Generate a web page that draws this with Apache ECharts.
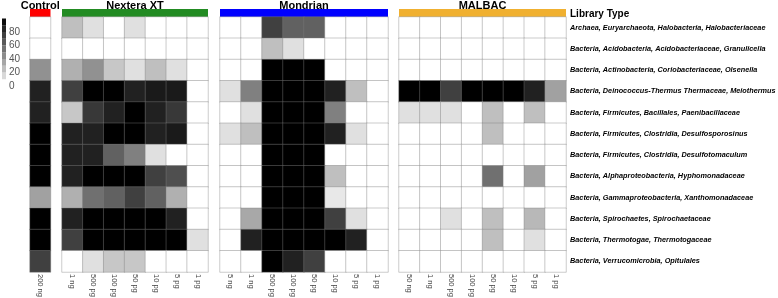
<!DOCTYPE html>
<html><head><meta charset="utf-8">
<script src="https://cdn.jsdelivr.net/npm/echarts@6/dist/echarts.min.js"></script>
<style>html,body{margin:0;padding:0;background:#fff}#c{width:778px;height:298px}</style>
</head><body><div id="c"></div>
<script>
const rowLabels = [
  'Archaea, Euryarchaeota, Halobacteria, Halobacteriaceae',
  'Bacteria, Acidobacteria, Acidobacteriaceae, Granulicella',
  'Bacteria, Actinobacteria, Coriobacteriaceae, Olsenella',
  'Bacteria, Deinococcus-Thermus Thermaceae, Meiothermus',
  'Bacteria, Firmicutes, Bacillales, Paenibacillaceae',
  'Bacteria, Firmicutes, Clostridia, Desulfosporosinus',
  'Bacteria, Firmicutes, Clostridia, Desulfotomaculum',
  'Bacteria, Alphaproteobacteria, Hyphomonadaceae',
  'Bacteria, Gammaproteobacteria, Xanthomonadaceae',
  'Bacteria, Spirochaetes, Spirochaetaceae',
  'Bacteria, Thermotogae, Thermotogaceae',
  'Bacteria, Verrucomicrobia, Opitulales'
];
const groupNames = ['Control', 'Nextera XT', 'Mondrian', 'MALBAC'];
const controlCols = ['200 ng'];
const nexteraCols = ['1 ng','500 pg','100 pg','50 pg','10 pg','5 pg','1 pg'];
const mondrianCols = ['5 ng','1 ng','500 pg','100 pg','50 pg','10 pg','5 pg','1 pg'];
const malbacCols = ['50 ng','1 ng','500 pg','100 pg','50 pg','10 pg','5 pg','1 pg'];

const controlValues = [
  [0],[0],[43],[87],[87],[100],[100],[100],[37],[100],[100],[75]
];
const nexteraValues = [
  [25,12,0,12,0,0,0],
  [0,0,0,0,0,0,0],
  [31,43,22,12,25,12,0],
  [75,100,100,87,90,90,0],
  [22,78,87,100,87,78,0],
  [87,87,100,100,87,90,0],
  [87,87,62,50,12,0,0],
  [87,100,100,100,75,69,0],
  [31,56,62,75,62,31,0],
  [87,100,100,100,100,87,0],
  [75,100,100,100,100,100,12],
  [0,12,22,22,0,0,0]
];
const mondrianValues = [
  [0,0,75,62,62,0,0,0],
  [0,0,25,12,0,0,0,0],
  [0,0,100,100,100,0,0,0],
  [12,50,100,100,100,87,25,0],
  [0,12,100,100,100,50,0,0],
  [12,25,100,100,100,87,12,0],
  [0,0,100,100,100,0,0,0],
  [0,0,100,100,100,25,0,0],
  [0,0,100,100,100,9,0,0],
  [0,34,100,100,100,75,12,0],
  [0,87,100,100,100,100,87,0],
  [0,0,100,87,75,0,0,0]
];
const malbacValues = [
  [0,0,0,0,0,0,0,0],
  [0,0,0,0,0,0,0,0],
  [0,0,0,0,0,0,0,0],
  [100,100,75,100,100,100,87,37],
  [12,12,12,0,25,0,25,0],
  [0,0,0,0,25,0,0,0],
  [0,0,0,0,0,0,0,0],
  [0,0,0,0,56,0,37,0],
  [0,0,0,0,0,0,0,0],
  [0,0,12,0,25,0,28,0],
  [0,0,0,0,25,0,12,0],
  [0,0,0,0,0,0,0,0]
];
const legendTicks = [0,20,40,60,80,100];
const legendSteps = [10,20,30,40,50,60,70,80,90,100];

const groupCols = [controlCols, nexteraCols, mondrianCols, malbacCols];
const groupValues = [controlValues, nexteraValues, mondrianValues, malbacValues];
const groupColors = ['#ff0000', '#228b22', '#0000ff', '#f0b030'];
const gridPos = [
  {left: 30, width: 20.5},
  {left: 62, width: 146},
  {left: 220, width: 168},
  {left: 399, width: 167}
];
const TOP = 17, H = 255;
const FONT = '"Liberation Sans", Arial, sans-serif';

const grids = [], xAxes = [], yAxes = [], series = [];
groupNames.forEach((name, g) => {
  grids.push({left: gridPos[g].left, width: gridPos[g].width, top: TOP, height: H,
    containLabel: false, outerBoundsMode: 'none'});
  xAxes.push({
    type: 'category', gridIndex: g, data: groupCols[g], position: 'bottom',
    axisLine: {show: false}, axisTick: {show: false}, splitLine: {show: false},
    axisLabel: {rotate: -90, fontSize: 7.5, color: '#444', margin: 2, fontFamily: FONT, interval: 0}
  });
  xAxes.push({
    type: 'category', gridIndex: g, data: groupCols[g], position: 'top', offset: 4,
    axisLine: {show: true, lineStyle: {color: groupColors[g], width: 8, cap: 'butt'}},
    axisTick: {show: false}, axisLabel: {show: false},
    name: name, nameLocation: 'middle', nameGap: 2,
    nameTextStyle: {fontSize: 11, fontWeight: 'bold', color: '#000', fontFamily: FONT}
  });
  const isLast = g === groupNames.length - 1;
  yAxes.push({
    type: 'category', gridIndex: g, data: rowLabels, inverse: true,
    position: 'right',
    axisLine: {show: false}, axisTick: {show: false}, splitLine: {show: false},
    axisLabel: isLast ? {show: true, fontSize: 7.3, fontStyle: 'italic', fontWeight: 'bold',
      color: '#000', margin: 4, align: 'left', fontFamily: FONT} : {show: false}
  });
  const data = [];
  groupValues[g].forEach((row, r) => row.forEach((v, c) => data.push([c, r, v])));
  series.push({
    type: 'heatmap', xAxisIndex: 2 * g, yAxisIndex: g, data: data,
    itemStyle: {borderColor: 'rgba(128,128,128,0.4)', borderWidth: 1},
    emphasis: {disabled: true}, silent: true
  });
});

// legend bar
const lg = groupNames.length;
grids.push({left: 2, width: 4, top: 18.5, height: 67.5, containLabel: false, outerBoundsMode: 'none'});
xAxes.push({type: 'category', gridIndex: lg, data: [''], show: false});
yAxes.push({
  type: 'value', gridIndex: lg, min: 0, max: 100, interval: 20, position: 'right',
  axisLine: {show: false}, axisTick: {show: false}, splitLine: {show: false},
  axisLabel: {fontSize: 10, color: '#555', margin: 3, fontFamily: FONT,
    formatter: v => (legendTicks.indexOf(v) >= 0 && v < 100) ? String(v) : ''}
});
let prev = 0;
legendSteps.forEach((e, i) => {
  const mid = (prev + e) / 2;
  const gv = Math.round(255 * (1 - mid / 100));
  series.push({
    type: 'bar', xAxisIndex: 2 * lg, yAxisIndex: lg, stack: 'legend', barWidth: '100%',
    data: [e - prev], silent: true,
    itemStyle: {color: i === 0 ? 'rgba(0,0,0,0)' : `rgb(${gv},${gv},${gv})`}
  });
  prev = e;
});

const chart = echarts.init(document.getElementById('c'), null, {renderer: 'canvas'});
chart.setOption({
  animation: false,
  backgroundColor: '#fff',
  title: {text: 'Library Type', left: 570, top: 9, padding: 0,
    textStyle: {fontSize: 10, fontWeight: 'bold', color: '#000', fontFamily: FONT}},
  grid: grids, xAxis: xAxes, yAxis: yAxes,
  visualMap: {type: 'continuous', min: 0, max: 100, show: false,
    seriesIndex: [0, 1, 2, 3], inRange: {color: ['#ffffff', '#000000']}},
  series: series
});
</script></body></html>
